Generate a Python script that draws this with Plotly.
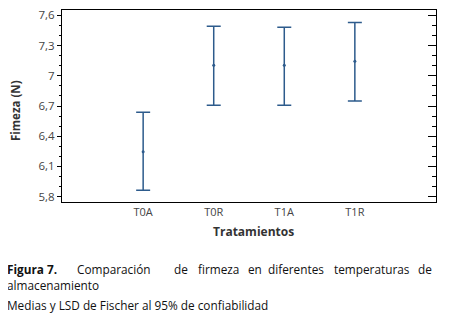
import plotly.graph_objects as go

treatments = ["T0A", "T0R", "T1A", "T1R"]
means = [6.247, 7.104, 7.104, 7.144]
upper = [6.638, 7.491, 7.481, 7.530]
lower = [5.864, 6.707, 6.707, 6.750]
ytick_vals = [5.8, 6.1, 6.4, 6.7, 7.0, 7.3, 7.6]
ytick_text = ["5,8", "6,1", "6,4", "6,7", "7", "7,3", "7,6"]

# page body has an 8px default margin; work in window pixels and shift
OFF = 8
W, H = 450 - OFF, 323 - OFF
L, R, T, B = 62, 436, 10, 202
BLUE = "#2d5b8c"
FONT = "Open Sans"

def px(x):
    return (x - L) / (R - L)

def py(y):
    return (B - y) / (B - T)

fig = go.Figure()
fig.add_trace(go.Scatter(
    x=treatments, y=means, mode="markers",
    marker=dict(size=3, color=BLUE),
    error_y=dict(type="data", symmetric=False,
                 array=[u - m for u, m in zip(upper, means)],
                 arrayminus=[m - l for m, l in zip(means, lower)],
                 color=BLUE, thickness=1.5, width=7),
    showlegend=False, hoverinfo="skip"))
fig.add_trace(go.Scatter(x=treatments, y=means, yaxis="y2", mode="markers",
                         marker=dict(opacity=0), showlegend=False, hoverinfo="skip"))

yr = [5.747, 7.653]
fig.update_layout(
    width=W, height=H,
    margin=dict(l=L - OFF, r=450 - R, t=T - OFF, b=323 - B, autoexpand=False),
    paper_bgcolor="white", plot_bgcolor="white",
    font=dict(family=FONT, size=11, color="#333333"),
    xaxis=dict(type="category", range=[-1.15, 4.15], showgrid=False, automargin=False,
               showline=True, linecolor="black", linewidth=1.3, mirror=True,
               ticks="", tickfont=dict(size=11, color="#444444")),
    yaxis=dict(range=yr, showgrid=False, zeroline=False, automargin=False,
               tickvals=ytick_vals, ticktext=ytick_text, ticklabeloverflow="allow",
               ticks="outside", ticklen=4, tickcolor="black", tickwidth=1,
               showline=True, linecolor="black", linewidth=1.3,
               tickfont=dict(size=11.5, color="#444444"),
               minor=dict(tick0=5.8, dtick=0.1, ticks="outside", ticklen=2,
                          tickcolor="black", showgrid=False)),
    yaxis2=dict(range=yr, overlaying="y", side="right", showgrid=False, automargin=False,
                zeroline=False, tickvals=ytick_vals, showticklabels=False,
                ticks="inside", ticklen=8, tickcolor="black", tickwidth=1,
                showline=True, linecolor="black", linewidth=1.3,
                minor=dict(tick0=5.8, dtick=0.1, ticks="inside", ticklen=4,
                           tickcolor="black", showgrid=False)),
)

ann = []
ann.append(dict(text="<b>Fimeza (N)</b>", x=px(15), y=py(111), xref="paper", yref="paper",
                textangle=-90, showarrow=False, font=dict(size=11.5, color="#333333"),
                xanchor="center", yanchor="middle"))
ann.append(dict(text="<b>Tratamientos</b>", x=px(253), y=py(231), xref="paper", yref="paper",
                showarrow=False, font=dict(size=12, color="#333333"),
                xanchor="center", yanchor="middle"))
words = [("<b>Figura</b>", 6), ("<b>7.</b>", 46), ("Comparación", 76), ("de", 173),
         ("firmeza", 197), ("en", 247), ("diferentes", 267), ("temperaturas", 333),
         ("de", 417)]
for w, x0 in words:
    ann.append(dict(text=w, x=px(x0), y=py(269), xref="paper", yref="paper",
                    showarrow=False, xanchor="left", yanchor="middle", borderpad=0,
                    font=dict(size=11.8, color="#111111")))
ann.append(dict(text="almacenamiento", x=px(6), y=py(285), xref="paper", yref="paper",
                showarrow=False, xanchor="left", yanchor="middle", borderpad=0,
                font=dict(size=11.8, color="#111111")))
ann.append(dict(text="Medias y LSD de Fischer al 95% de confiabilidad", x=px(6), y=py(305),
                xref="paper", yref="paper", showarrow=False, xanchor="left", yanchor="middle",
                borderpad=0, font=dict(size=11.8, color="#111111")))
fig.update_layout(annotations=ann)

fig.write_html("out.html")
